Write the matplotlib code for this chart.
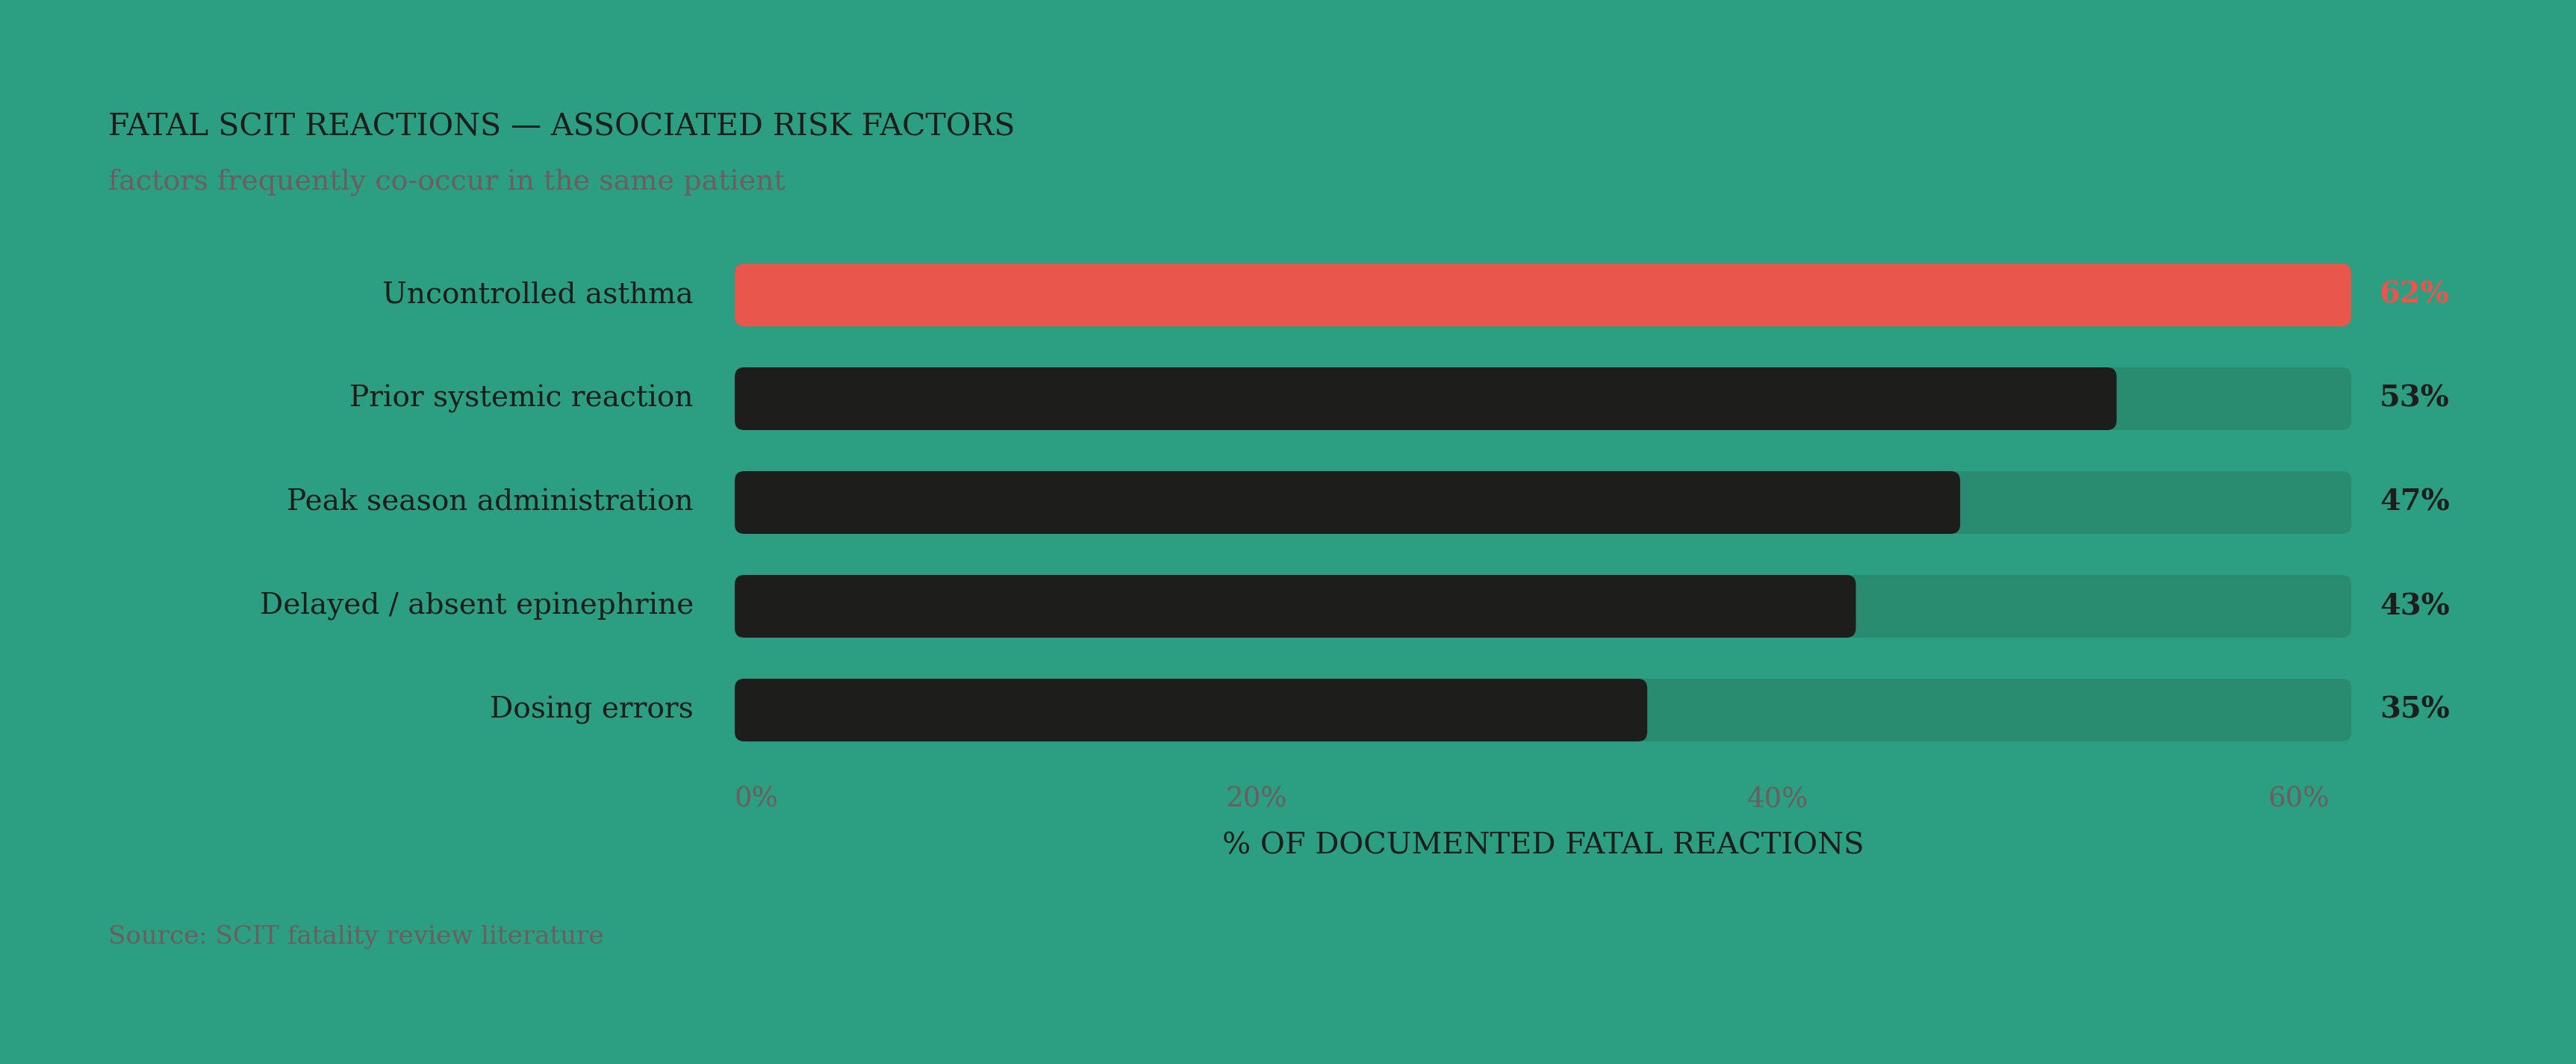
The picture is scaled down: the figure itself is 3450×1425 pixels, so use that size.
import matplotlib
matplotlib.use("Agg")
import matplotlib.pyplot as plt
from matplotlib.patches import FancyBboxPatch

categories = ["Uncontrolled asthma", "Prior systemic reaction", "Peak season administration",
              "Delayed / absent epinephrine", "Dosing errors"]
values = [62, 53, 47, 43, 35]
highlight = [True, False, False, False, False]
xticks = [0, 20, 40, 60]
xtick_labels = ["0%", "20%", "40%", "60%"]

BG = "#2c9e81"
TRACK = "#298b70"
RED = "#e8564c"
DARK = "#1d1d1b"
GRAY = "#6b5d60"
FONT = "DejaVu Serif"

W, H, DPI = 3450, 1425, 100
def pt(px):
    return px * 72.0 / DPI

fig = plt.figure(figsize=(W / DPI, H / DPI), dpi=DPI, facecolor=BG)
ax_left, ax_right = 984, 3149
ax_top, ax_bot = 325.5, 1020.5
ax = fig.add_axes([ax_left / W, 1 - ax_bot / H, (ax_right - ax_left) / W, (ax_bot - ax_top) / H])
ax.set_facecolor(BG)
for s in ax.spines.values():
    s.set_visible(False)

xmax = max(values)
n = len(categories)
ax.set_xlim(0, xmax)
ax.set_ylim(n - 0.5, -0.5)

px_per_x = (ax_right - ax_left) / xmax
px_per_y = (ax_bot - ax_top) / n
aspect = px_per_x / px_per_y
radius_px = 13
bar_h = 84 / px_per_y

for i, (cat, v, hl) in enumerate(zip(categories, values, highlight)):
    y0 = i - bar_h / 2
    track = FancyBboxPatch((0, y0), xmax, bar_h,
                           boxstyle=f"round,pad=0,rounding_size={radius_px / px_per_x}",
                           mutation_aspect=aspect, facecolor=TRACK, edgecolor="none", zorder=1)
    ax.add_patch(track)
    bar = FancyBboxPatch((0, y0), v, bar_h,
                         boxstyle=f"round,pad=0,rounding_size={radius_px / px_per_x}",
                         mutation_aspect=aspect, facecolor=RED if hl else DARK,
                         edgecolor="none", zorder=2)
    ax.add_patch(bar)
    ax.text(xmax + 38 / px_per_x, i, f"{v}%", ha="left", va="center",
            fontsize=pt(40), fontweight="bold", color=RED if hl else DARK,
            family=FONT, clip_on=False)
    ax.text(-55 / px_per_x, i, cat, ha="right", va="center", fontsize=pt(39),
            color=DARK, family=FONT, clip_on=False)

ax.set_yticks([])
ax.set_xticks(xticks)
ax.set_xticklabels(xtick_labels, family=FONT, fontsize=pt(37), color=GRAY)
ax.get_xticklabels()[0].set_horizontalalignment("left")
ax.tick_params(axis="x", length=0, pad=pt(32))

fig.text(145 / W, 1 - 182 / H, "FATAL SCIT REACTIONS — ASSOCIATED RISK FACTORS",
         family=FONT, fontsize=pt(41), color=DARK, va="baseline", ha="left")
fig.text(145 / W, 1 - 254 / H, "factors frequently co-occur in the same patient",
         family=FONT, fontsize=pt(38), color=GRAY, va="baseline", ha="left")
fig.text((ax_left + ax_right) / 2 / W, 1 - 1143 / H, "% OF DOCUMENTED FATAL REACTIONS",
         family=FONT, fontsize=pt(40), color=DARK, va="baseline", ha="center")
fig.text(145 / W, 1 - 1264 / H, "Source: SCIT fatality review literature",
         family=FONT, fontsize=pt(34), color=GRAY, va="baseline", ha="left")

fig.savefig("out.png", dpi=DPI, facecolor=BG)
